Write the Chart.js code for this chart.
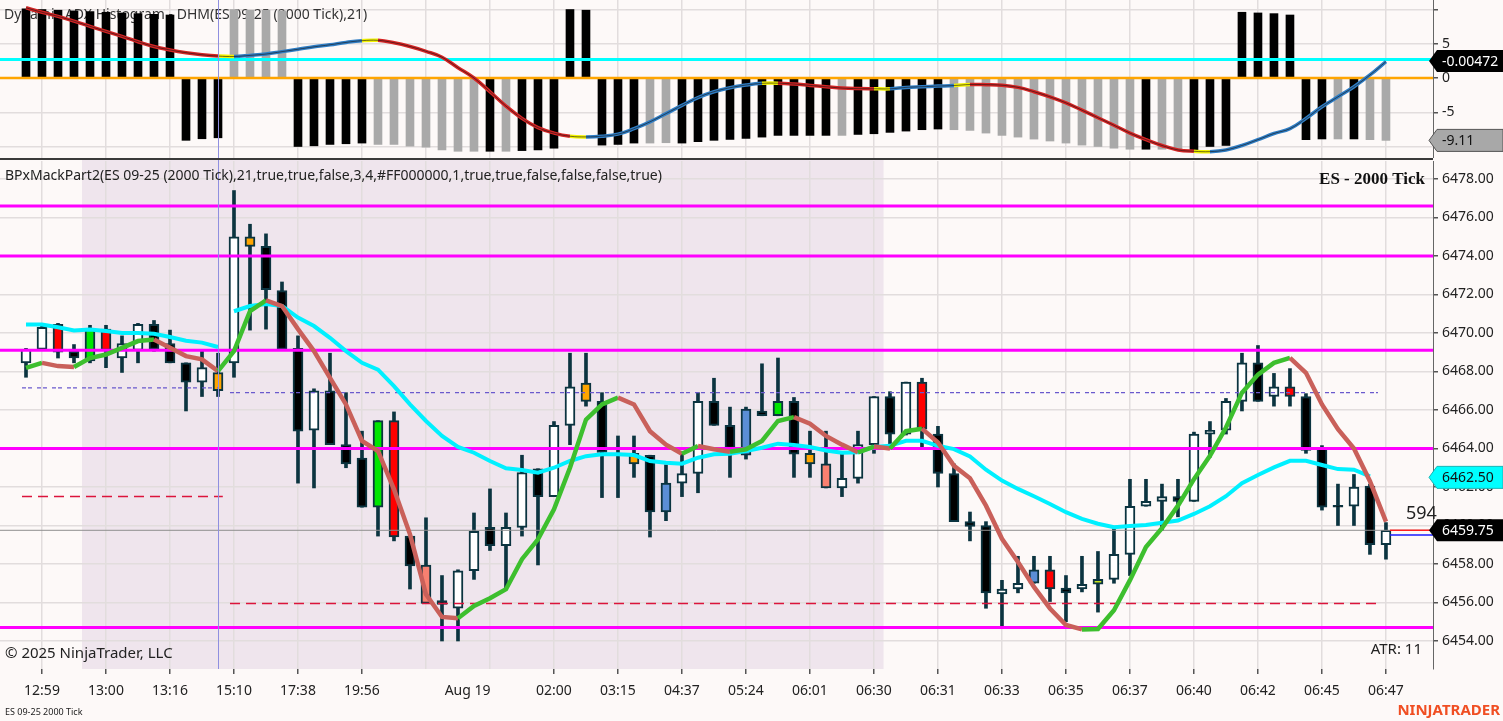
<!DOCTYPE html>
<html>
<head>
<meta charset="utf-8">
<script src="https://cdn.jsdelivr.net/npm/chart.js@4.4.1/dist/chart.umd.min.js"></script>
<style>
  html, body { margin: 0; padding: 0; background: #fdf9f8; }
  #wrap { position: relative; width: 1503px; height: 721px; overflow: hidden; }
  #topBox { position: absolute; left: 0; top: 0; width: 1503px; height: 158px; }
  #sep { position: absolute; left: 0; top: 158px; width: 1433px; height: 2px; background: #3a3a3a; }
  #botBox { position: absolute; left: 0; top: 160px; width: 1503px; height: 561px; }
</style>
</head>
<body>
<div id="wrap">
  <div id="topBox"><canvas id="dhm"></canvas></div>
  <div id="sep"></div>
  <div id="botBox"><canvas id="price"></canvas></div>
</div>
<script>
// candles, one per 2000 ticks
const opens = [6468.45, 6469.15, 6470.45, 6469.05, 6468.55, 6470.2, 6468.7, 6469.1, 6470.45, 6469.45,
  6468.45, 6467.45, 6467.0, 6468.45, 6474.5, 6474.5, 6472.2, 6469.2, 6464.95, 6467.0,
  6464.2, 6463.5, 6460.95, 6465.45, 6459.45, 6457.95, 6456.1, 6455.7, 6457.65, 6459.9,
  6458.95, 6459.9, 6462.95, 6461.5, 6465.2, 6466.45, 6466.45, 6463.1, 6463.75, 6463.65,
  6460.7, 6462.2, 6462.7, 6466.45, 6465.2, 6463.65, 6465.95, 6465.7, 6466.45, 6463.2,
  6463.2, 6461.95, 6462.45, 6464.2, 6466.7, 6464.75, 6467.45, 6464.75, 6462.7, 6460.2,
  6460.0, 6456.45, 6456.7, 6457.0, 6457.7, 6456.75, 6456.7, 6456.95, 6457.2, 6458.5,
  6461.0, 6461.25, 6461.5, 6461.25, 6464.75, 6464.95, 6466.45, 6468.45, 6466.7, 6467.2,
  6466.7, 6464.05, 6461.05, 6461.0, 6462.05, 6459.0];
const highs = [6469.2, 6470.35, 6470.5, 6469.4, 6470.4, 6470.4, 6469.85, 6470.5, 6470.65, 6470.15,
  6468.45, 6469.15, 6468.95, 6477.4, 6475.65, 6475.15, 6472.65, 6469.85, 6467.1, 6468.95,
  6466.9, 6464.9, 6465.45, 6465.9, 6459.45, 6460.4, 6457.4, 6457.7, 6460.65, 6461.9,
  6460.65, 6463.65, 6462.95, 6465.4, 6468.95, 6468.95, 6466.9, 6464.65, 6464.65, 6463.65,
  6463.15, 6463.7, 6466.9, 6467.65, 6466.15, 6466.15, 6468.4, 6468.7, 6466.65, 6464.9,
  6464.9, 6463.7, 6464.9, 6466.7, 6466.95, 6467.45, 6467.65, 6465.15, 6463.2, 6460.7,
  6460.2, 6457.15, 6458.4, 6458.4, 6458.4, 6457.4, 6458.4, 6458.65, 6459.85, 6462.4,
  6462.4, 6462.15, 6462.4, 6464.85, 6465.4, 6466.6, 6468.95, 6469.35, 6467.9, 6468.15,
  6466.85, 6464.15, 6462.15, 6462.65, 6462.15, 6460.15];
const lows = [6467.7, 6469.1, 6468.7, 6468.45, 6468.45, 6468.2, 6467.95, 6468.45, 6469.05, 6468.45,
  6465.95, 6466.7, 6466.7, 6467.7, 6470.15, 6470.2, 6469.15, 6462.2, 6461.95, 6464.2,
  6463.0, 6460.95, 6459.45, 6459.2, 6456.7, 6455.95, 6454.0, 6454.0, 6457.2, 6458.7,
  6456.7, 6459.45, 6457.95, 6461.5, 6464.2, 6466.2, 6461.45, 6461.45, 6462.5, 6459.4,
  6460.25, 6461.5, 6461.7, 6465.2, 6462.5, 6463.45, 6465.7, 6465.7, 6462.5, 6462.5,
  6461.95, 6461.5, 6462.2, 6463.75, 6464.2, 6464.7, 6464.05, 6462.0, 6460.2, 6459.2,
  6455.7, 6454.75, 6456.5, 6457.0, 6456.05, 6455.0, 6456.55, 6455.5, 6457.0, 6457.4,
  6461.0, 6459.75, 6460.45, 6461.25, 6463.55, 6464.75, 6465.95, 6466.45, 6466.2, 6466.2,
  6463.75, 6460.8, 6460.0, 6460.0, 6458.5, 6458.25];
const closes = [6469.15, 6470.3, 6469.0, 6468.7, 6470.2, 6469.1, 6469.45, 6470.45, 6469.15, 6468.45,
  6467.45, 6468.2, 6467.95, 6475.0, 6475.0, 6472.25, 6469.15, 6464.9, 6467.0, 6464.2,
  6463.2, 6460.95, 6465.45, 6459.4, 6457.9, 6455.95, 6455.9, 6457.65, 6459.7, 6458.95,
  6459.9, 6462.75, 6461.5, 6465.2, 6467.2, 6467.4, 6463.8, 6463.1, 6463.2, 6460.7,
  6462.2, 6462.7, 6466.45, 6465.2, 6464.0, 6466.05, 6465.7, 6466.45, 6463.7, 6463.75,
  6461.95, 6462.45, 6464.2, 6466.7, 6464.75, 6467.45, 6465.0, 6462.7, 6460.2, 6459.95,
  6456.5, 6456.7, 6457.0, 6457.7, 6456.7, 6456.5, 6456.95, 6457.2, 6458.5, 6461.0,
  6461.25, 6461.5, 6461.25, 6464.75, 6464.95, 6466.45, 6468.45, 6466.45, 6467.2, 6466.7,
  6463.9, 6460.95, 6460.95, 6462.0, 6459.0, 6459.75];

// painted signal bars
const signalIndex = [2, 4, 5, 12, 14, 22, 23, 25, 35, 38, 40, 45, 47, 49, 50, 56, 63, 64, 67, 79];
const signalCode  = ['R', 'G', 'R', 'O', 'O', 'G', 'R', 'S', 'O', 'O', 'B', 'B', 'G', 'O', 'S', 'R', 'B', 'R', 'Y', 'R'];

// slow (cyan) and fast (green/red) averages
const slowAvg = [6470.44, 6470.44, 6470.3, 6470.13, 6470.18, 6470.1, 6470.0, 6470.0, 6469.96, 6469.79, 6469.6, 6469.5, 6469.27,
  6471.13, 6471.4, 6471.5, 6471.4, 6470.8, 6470.36, 6469.75, 6469.06, 6468.45, 6468.1, 6467.24, 6466.29, 6465.43, 6464.65,
  6464.08, 6463.78, 6463.35, 6462.97, 6462.88, 6462.74, 6463.0, 6463.35, 6463.6,
  6463.7, 6463.7, 6463.66, 6463.35, 6463.26, 6463.21, 6463.52, 6463.7, 6463.73, 6463.87, 6464.04, 6464.25, 6464.18, 6464.08,
  6463.9, 6463.78, 6463.8, 6464.08,
  6464.14, 6464.4, 6464.4, 6464.14, 6463.97, 6463.59, 6462.9, 6462.33, 6461.9, 6461.52, 6461.12, 6460.69, 6460.34, 6460.09,
  6459.91, 6459.97, 6460.03, 6460.14, 6460.26, 6460.6, 6461.0, 6461.52, 6462.2, 6462.62, 6463.02, 6463.36, 6463.36, 6463.14,
  6462.93, 6462.9, 6462.55, null];
const slowBreakAfter = 12;
const fastAvg = [6468.19, 6468.45, 6468.28, 6468.23, 6468.7, 6468.88, 6469.23, 6469.58, 6469.66, 6469.23,
  6468.8, 6468.63, 6468.02, 6469.06, 6471.13, 6471.69, 6471.4, 6470.2, 6469.06, 6467.67,
  6466.29, 6464.39, 6463.87, 6461.88, 6459.54, 6456.43, 6455.25, 6455.18, 6455.82, 6456.22,
  6456.69, 6458.25, 6459.28, 6460.84, 6463.0, 6465.5, 6466.29, 6466.64, 6466.29, 6464.9,
  6464.2, 6463.73, 6464.13, 6463.96, 6463.83, 6463.96, 6464.39, 6465.43, 6465.63, 6465.29,
  6464.65, 6464.2, 6463.8, 6464.1, 6464.0, 6464.9, 6465.03, 6464.31, 6463.1, 6462.45,
  6461.03, 6459.31, 6458.1, 6456.81, 6455.69, 6454.83, 6454.6, 6454.62, 6455.6, 6457.16,
  6458.88, 6459.86, 6461.03, 6462.41, 6463.62, 6465.09, 6466.9, 6467.84, 6468.45, 6468.71,
  6467.93, 6466.29, 6465.0, 6464.0, 6462.3, 6460.2];

// horizontal levels
const magentaLevels = [6476.6, 6474.0, 6469.1, 6464.0, 6454.7];
const purpleLevels = [6467.15, 6466.9], purpleFrom = [-0.25, 12.75], purpleTo = [12, 84.5];
const redDashLevels = [6461.5, 6455.95], redDashFrom = [-0.25, 12.75], redDashTo = [12.3, 84.5];
const lastPrice = 6459.75, bidPrice = 6459.5, slowLast = 6462.5;

// top panel: Dynamic ADX histogram
const dhmHist = [10.1, 10.0, 9.9, 9.8, 9.7, 9.6, 9.5, 9.4, 9.3, 9.2,
  -9.1, -8.87, -8.73, 10.0, 9.9, 9.9, 9.8,
  -10.0, -9.9, -9.7, -9.6, -9.5, -9.7, -9.7, -9.95, -10.1, -10.5, -10.7, -10.7, -10.7, -10.7, -10.6, -10.5, -10.25,
  10.0, 9.9,
  -9.8, -9.7, -9.5, -9.5, -9.45, -9.5, -9.3, -9.1, -8.97, -8.82, -8.63, -8.38, -8.38, -8.38, -8.38, -8.38, -8.24, -8.14,
  -7.94, -7.75, -7.55, -7.45, -7.55, -7.65, -8.04, -8.38, -8.63, -8.92, -9.2, -9.5, -9.8, -10.0, -10.25, -10.4, -10.4,
  -10.4, -10.4, -10.5, -10.0, -9.85,
  9.6, 9.5, 9.4, 9.2,
  -9.0, -8.9, -8.9, -8.9, -9.0, -9.11];
const histGray = [13, 14, 15, 16, 22, 23, 24, 25, 26, 27, 28, 30, 39, 40, 51, 58, 59, 60, 61, 62, 63, 64, 65, 66, 67,
  68, 69, 71, 72, 82, 84, 85];
const dhmLine = [10.25, 9.6, 9.0, 8.3, 7.55, 6.8, 6.08, 5.3, 4.6, 4.1,
  3.7, 3.4, 3.2, 3.14, 3.3, 3.5, 3.85, 4.2, 4.55, 4.85,
  5.2, 5.45, 5.5, 5.15, 4.6, 3.9, 3.04, 1.5, 0.0, -2.0,
  -4.1, -5.9, -7.25, -8.04, -8.5, -8.6, -8.5, -8.2, -7.4, -6.4,
  -5.2, -4.0, -2.85, -2.0, -1.42, -1.03, -0.78, -0.76, -0.88, -1.08,
  -1.27, -1.47, -1.55, -1.57, -1.58, -1.37, -1.27, -1.18, -1.1, -0.95,
  -0.97, -1.05, -1.37, -2.0, -2.75, -3.63, -4.7, -5.8, -6.9, -8.04,
  -9.0, -9.85, -10.5, -10.7, -10.75, -10.5, -9.85, -9.0, -8.1, -7.4,
  -5.9, -4.2, -2.75, -1.27, 0.44, 2.4];
const dhmTurns = [12, 21, 34, 46, 53, 58, 73];
const dhmLevel = 2.7;

// time axis
const timeTickIdx = [1, 5, 9, 13, 17, 21, 25, 27.6, 29, 33, 37, 41, 45, 49, 53, 57, 61, 65, 69, 73, 77, 81, 85];
const timeTickText = ['12:59', '13:00', '13:16', '15:10', '17:38', '19:56', '', 'Aug 19', '', '02:00', '03:15', '04:37',
  '05:24', '06:01', '06:30', '06:31', '06:33', '06:35', '06:37', '06:40', '06:42', '06:45', '06:47'];
const sessionStart = 3.5, sessionEnd = 53.6, sessionMark = 12;

const xMin = -1.625, xMax = 87.94;
const FONT = '"Noto Sans", "Open Sans", sans-serif';
const EDGE = '#0b3440';
const signalColors = { R: '#ff0000', G: '#00e600', O: '#ffa500', B: '#5b8ed6', S: '#f98070', Y: '#c8e41e' };
const sig = {};
signalIndex.forEach((v, k) => { sig[v] = signalCode[k]; });

const idx = opens.map((_, i) => i);
const flat = (lvl, a, b) => [{ x: a, y: lvl }, { x: b, y: lvl }];

// keep the plot area exactly where the layout puts it (no label overhang padding)
function fixRightAxis(s) {
  s.width = 70;
  s.paddingTop = 0;
  s.paddingBottom = 0;
}

function xScale(showLabels) {
  return {
    type: 'linear', min: xMin, max: xMax, offset: false,
    afterBuildTicks: s => { s.ticks = timeTickIdx.map(v => ({ value: v })); },
    afterFit: s => { s.height = showLabels ? 52 : 0; s.paddingLeft = 0; s.paddingRight = 0; },
    border: { display: false },
    grid: {
      offset: false, lineWidth: 1.5, drawTicks: showLabels, tickLength: 5,
      color: c => (c.tick && Number.isInteger(c.tick.value)) ? '#e2dddd' : 'rgba(0,0,0,0)',
      tickColor: c => (c.tick && timeTickText[c.index]) && Number.isInteger(c.tick.value) ? '#555' : 'rgba(0,0,0,0)'
    },
    ticks: {
      display: showLabels, autoSkip: false, maxRotation: 0, padding: 9,
      color: '#222', font: { family: FONT, size: 14 },
      callback: (v, i) => timeTickText[i]
    }
  };
}

function drawTag(ctx, area, y, text, fill, stroke, color) {
  const x0 = area.right - 4, x1 = 1503, h = 22;
  ctx.save();
  ctx.beginPath();
  ctx.moveTo(x0, y);
  ctx.lineTo(x0 + 8, y - h / 2);
  ctx.lineTo(x1, y - h / 2);
  ctx.lineTo(x1, y + h / 2);
  ctx.lineTo(x0 + 8, y + h / 2);
  ctx.closePath();
  ctx.fillStyle = fill;
  ctx.fill();
  if (stroke) { ctx.strokeStyle = stroke; ctx.lineWidth = 1; ctx.stroke(); }
  ctx.fillStyle = color;
  ctx.font = '14px ' + FONT;
  ctx.textBaseline = 'middle';
  ctx.textAlign = 'left';
  ctx.fillText(text, x0 + 13, y + 1);
  ctx.restore();
}

function markLine(chart, top) {
  const { ctx, chartArea: a, scales: { x } } = chart;
  const px = Math.round(x.getPixelForValue(sessionMark)) + 0.5;
  ctx.save();
  ctx.strokeStyle = '#8f8fe0';
  ctx.lineWidth = 1;
  ctx.beginPath();
  ctx.moveTo(px, top);
  ctx.lineTo(px, a.bottom);
  ctx.stroke();
  ctx.restore();
}

// ---------- top panel ----------
const dhmDecor = {
  id: 'dhmDecor',
  beforeDraw(chart) {
    const { ctx } = chart;
    ctx.save();
    ctx.fillStyle = '#fdf9f8';
    ctx.fillRect(0, 0, chart.width, chart.height);
    ctx.restore();
  },
  beforeDatasetsDraw(chart) {
    const { ctx } = chart;
    ctx.save();
    ctx.fillStyle = '#333';
    ctx.font = '14px ' + FONT;
    ctx.textBaseline = 'middle';
    ctx.fillText('Dynamic ADX Histogram - DHM(ES 09-25 (2000 Tick),21)', 4, 15);
    ctx.restore();
  },
  afterDatasetsDraw(chart) { markLine(chart, 0); },
  afterDraw(chart) {
    const { ctx, chartArea: a, scales: { y } } = chart;
    drawTag(ctx, a, y.getPixelForValue(dhmLevel) + 1.5, '-0.00472', '#000', null, '#fff');
    drawTag(ctx, a, y.getPixelForValue(dhmHist[dhmHist.length - 1]), dhmHist[dhmHist.length - 1].toFixed(2),
      '#a8a8a8', '#555', '#111');
  }
};

new Chart(document.getElementById('dhm'), {
  type: 'bar',
  data: {
    datasets: [
      {
        type: 'line', order: 0, data: idx.map(i => ({ x: i, y: dhmLine[i] })),
        borderColor: 'rgba(25,20,20,0.6)', borderWidth: 1, pointRadius: 0, tension: 0.4
      },
      {
        type: 'line', order: 1, data: idx.map(i => ({ x: i, y: dhmLine[i] })),
        borderWidth: 3.5, pointRadius: 0, tension: 0.4, borderColor: '#d42424',
        segment: {
          borderColor: c => dhmTurns.includes(c.p0DataIndex) ? '#f2f200'
            : (c.p1.parsed.y >= c.p0.parsed.y ? '#2e7dc4' : '#d42424')
        }
      },
      {
        type: 'line', order: 2, data: flat(dhmLevel, xMin, xMax),
        borderColor: '#00ffff', borderWidth: 3, pointRadius: 0
      },
      {
        type: 'line', order: 2, data: flat(0, xMin, xMax),
        borderColor: '#ffa500', borderWidth: 2.5, pointRadius: 0
      },
      {
        order: 3, grouped: false, barThickness: 8,
        data: idx.map(i => ({ x: i, y: dhmHist[i] })),
        backgroundColor: c => histGray.includes(c.dataIndex) ? '#a9a9a9' : '#000000'
      }
    ]
  },
  options: {
    responsive: true, maintainAspectRatio: false, animation: false, events: [],
    layout: { padding: 0, autoPadding: false },
    plugins: { legend: { display: false }, tooltip: { enabled: false } },
    scales: {
      x: xScale(false),
      y: {
        position: 'right', min: -11.68, max: 11.39,
        afterFit: fixRightAxis,
        border: { display: true, color: '#666', width: 1 },
        grid: { color: '#e2dddd', lineWidth: 1.5, tickLength: 5, tickColor: '#555' },
        ticks: {
          stepSize: 5, includeBounds: false, padding: 4, color: '#222',
          font: { family: FONT, size: 14 },
          callback: v => v === 10 ? '' : v
        }
      }
    }
  },
  plugins: [dhmDecor]
});

// ---------- price panel ----------
const priceDecor = {
  id: 'priceDecor',
  beforeDraw(chart) {
    const { ctx, chartArea: a, scales: { x } } = chart;
    ctx.save();
    ctx.fillStyle = '#fdf9f8';
    ctx.fillRect(0, 0, chart.width, chart.height);
    const x0 = x.getPixelForValue(sessionStart), x1 = x.getPixelForValue(sessionEnd);
    ctx.fillStyle = '#efe5ed';
    ctx.fillRect(x0, a.top - 1, x1 - x0, a.bottom - a.top + 1);
    ctx.restore();
  },
  afterDatasetsDraw(chart) {
    const { ctx, chartArea: a, scales: { x, y } } = chart;
    markLine(chart, 0);
    const lx = x.getPixelForValue(idx.length - 1) + 4;
    ctx.save();
    ctx.lineWidth = 1.5;
    ctx.strokeStyle = '#ff2020';
    ctx.beginPath();
    ctx.moveTo(lx, y.getPixelForValue(lastPrice));
    ctx.lineTo(a.right, y.getPixelForValue(lastPrice));
    ctx.stroke();
    ctx.strokeStyle = '#1a1aff';
    ctx.beginPath();
    ctx.moveTo(lx, y.getPixelForValue(bidPrice));
    ctx.lineTo(a.right, y.getPixelForValue(bidPrice));
    ctx.stroke();
    ctx.fillStyle = '#222';
    ctx.font = '18px ' + FONT;
    ctx.textBaseline = 'middle';
    ctx.fillText('594', lx + 16, y.getPixelForValue(6460.6));
    ctx.restore();
  },
  afterDraw(chart) {
    const { ctx, chartArea: a, scales: { y } } = chart;
    ctx.save();
    ctx.textBaseline = 'middle';
    ctx.fillStyle = '#222';
    ctx.font = '14px ' + FONT;
    ctx.fillText('BPxMackPart2(ES 09-25 (2000 Tick),21,true,true,false,3,4,#FF000000,1,true,true,false,false,false,true)', 5, 16);
    ctx.font = '15px ' + FONT;
    ctx.fillText('\u00A9 2025 NinjaTrader, LLC', 5, a.bottom - 15);
    ctx.textAlign = 'right';
    ctx.fillText('ATR: 11', a.right - 11, a.bottom - 19);
    ctx.font = 'bold 17px "Liberation Serif", "DejaVu Serif", serif';
    ctx.fillStyle = '#111';
    ctx.fillText('ES - 2000 Tick', a.right - 8, 20);
    ctx.textAlign = 'left';
    ctx.font = '9px ' + FONT;
    ctx.fillStyle = '#222';
    ctx.fillText('ES 09-25 2000 Tick', 5, 552);
    ctx.textAlign = 'right';
    ctx.font = 'bold 15px ' + FONT;
    ctx.fillStyle = '#f04e22';
    ctx.fillText('NINJATRADER', 1500, 551);
    ctx.restore();
    drawTag(ctx, a, y.getPixelForValue(slowLast), slowLast.toFixed(2), '#00ffff', '#19b5b5', '#111');
    drawTag(ctx, a, y.getPixelForValue(lastPrice), lastPrice.toFixed(2), '#000', null, '#fff');
  }
};

const priceSets = [
  {
    type: 'line', order: 0, data: idx.map(i => ({ x: i, y: fastAvg[i] })),
    borderWidth: 4.5, pointRadius: 0, tension: 0, borderColor: '#c9605a',
    segment: { borderColor: c => c.p1.parsed.y >= c.p0.parsed.y ? '#3dbf2e' : '#c9605a' }
  },
  {
    type: 'line', order: 1, data: idx.map(i => ({ x: i, y: slowAvg[i] })),
    borderWidth: 4, pointRadius: 0, tension: 0, borderColor: '#00f0ff', spanGaps: false,
    segment: { borderColor: c => c.p0DataIndex === slowBreakAfter ? 'rgba(0,0,0,0)' : undefined }
  }
];
magentaLevels.forEach(l => priceSets.push({
  type: 'line', order: 2, data: flat(l, xMin, xMax), borderColor: '#ff00ff', borderWidth: 3, pointRadius: 0
}));
purpleLevels.forEach((l, k) => priceSets.push({
  type: 'line', order: 3, data: flat(l, purpleFrom[k], purpleTo[k]), borderColor: '#6a5acd',
  borderWidth: 1.3, borderDash: [4, 2, 4, 5], pointRadius: 0
}));
redDashLevels.forEach((l, k) => priceSets.push({
  type: 'line', order: 3, data: flat(l, redDashFrom[k], redDashTo[k]), borderColor: '#dc143c',
  borderWidth: 1.5, borderDash: [10, 6], pointRadius: 0
}));
priceSets.push({
  type: 'line', order: 3, data: flat(lastPrice, xMin, xMax), borderColor: '#8e8e8e', borderWidth: 1, pointRadius: 0
});
priceSets.push({
  order: 4, grouped: false, barThickness: 10, borderWidth: 2, borderColor: EDGE, borderSkipped: false,
  data: idx.map(i => ({ x: i, y: [opens[i], closes[i]] })),
  backgroundColor: c => {
    const s = sig[c.dataIndex];
    if (s) return signalColors[s];
    return closes[c.dataIndex] >= opens[c.dataIndex] ? '#ffffff' : '#000000';
  }
});
priceSets.push({
  order: 5, grouped: false, barThickness: 3, backgroundColor: EDGE,
  data: idx.map(i => ({ x: i, y: [lows[i], highs[i]] }))
});

new Chart(document.getElementById('price'), {
  type: 'bar',
  data: { datasets: priceSets },
  options: {
    responsive: true, maintainAspectRatio: false, animation: false, events: [],
    layout: { padding: { top: 1, left: 0, right: 0, bottom: 0 }, autoPadding: false },
    plugins: { legend: { display: false }, tooltip: { enabled: false } },
    scales: {
      x: xScale(true),
      y: {
        position: 'right', min: 6452.545, max: 6478.935,
        afterFit: fixRightAxis,
        border: { display: true, color: '#666', width: 1 },
        grid: { color: '#e2dddd', lineWidth: 1.5, tickLength: 5, tickColor: '#555' },
        ticks: {
          stepSize: 2, includeBounds: false, padding: 4, color: '#222',
          font: { family: FONT, size: 14 },
          callback: v => v.toFixed(2)
        }
      }
    }
  },
  plugins: [priceDecor]
});
</script>
</body>
</html>
